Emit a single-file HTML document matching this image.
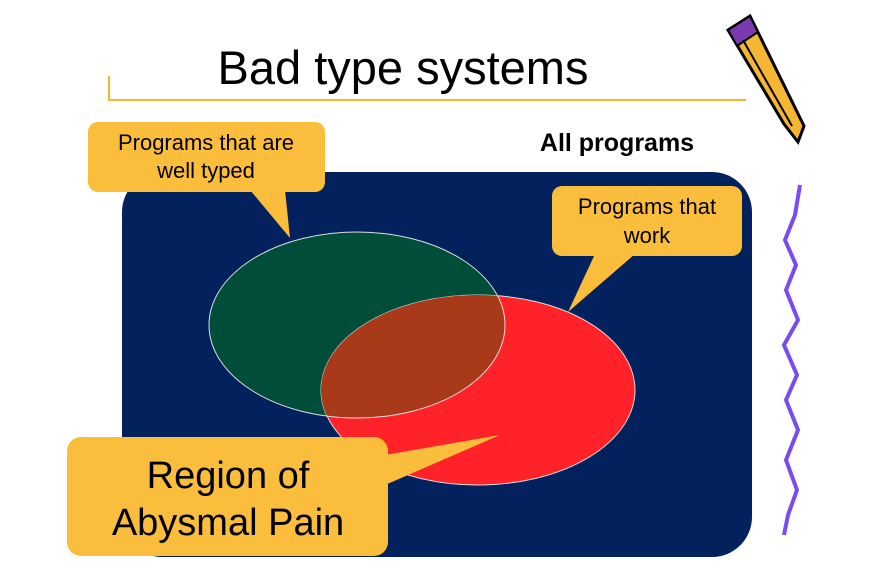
<!DOCTYPE html>
<html><head><meta charset="utf-8"><style>
html,body{margin:0;padding:0;background:#fff;}
svg{display:block;font-family:"Liberation Sans",sans-serif;}
</style></head><body>
<svg width="889" height="586" viewBox="0 0 889 586" xmlns="http://www.w3.org/2000/svg">
<defs>
<clipPath id="redclip"><ellipse cx="478" cy="390" rx="157" ry="95"/></clipPath>
</defs>
<text x="403" y="84" font-size="47" text-anchor="middle" fill="#000">Bad type systems</text>
<path d="M109 76 L109 100 L746 100" fill="none" stroke="#f5b731" stroke-width="2"/>
<rect x="122" y="172" width="630" height="385" rx="40" fill="#03215c"/>
<text x="617" y="151" font-size="25" font-weight="bold" text-anchor="middle" fill="#000">All programs</text>
<ellipse cx="357" cy="325" rx="148" ry="93" fill="#004d3a" stroke="#ddd" stroke-width="1"/>
<ellipse cx="478" cy="390" rx="157" ry="95" fill="#ff2229" stroke="#ddd" stroke-width="1"/>
<ellipse cx="357" cy="325" rx="148" ry="93" fill="#a83a1a" stroke="#ddd" stroke-width="1" clip-path="url(#redclip)"/>
<g>
<path d="M250 190 L290 238 L285 190 Z" fill="#fbbd3c"/>
<rect x="88" y="122" width="237" height="70" rx="10" fill="#fbbd3c"/>
<text x="206" y="150" font-size="22" text-anchor="middle">Programs that are</text>
<text x="206" y="178" font-size="22" text-anchor="middle">well typed</text>
</g>
<g>
<path d="M595 254 L568 312 L635 254 Z" fill="#fbbd3c"/>
<rect x="552" y="186" width="190" height="70" rx="10" fill="#fbbd3c"/>
<text x="647" y="214" font-size="22" text-anchor="middle">Programs that</text>
<text x="647" y="243" font-size="22" text-anchor="middle">work</text>
</g>
<g>
<path d="M385 455 L500 435 L385 485 Z" fill="#fbbd3c"/>
<rect x="67" y="437" width="321" height="119" rx="14" fill="#fbbd3c"/>
<text x="228" y="488" font-size="38" text-anchor="middle">Region of</text>
<text x="228" y="535" font-size="38" text-anchor="middle">Abysmal Pain</text>
</g>
<g>
<polygon points="728,30 750,16 804,126 798,142 784,124" fill="#f5b731" stroke="#000" stroke-width="3"/>
<polygon points="728,30 750,16 758,32 737,46" fill="#7a3ab0" stroke="#000" stroke-width="2"/>
<line x1="743" y1="40" x2="792" y2="126" stroke="#000" stroke-width="2"/>
</g>
<path d="M800 185 L795 215 L785 240 L796 265 L786 290 L798 320 L784 345 L797 375 L786 400 L798 430 L786 460 L797 490 L788 515 L784 535" fill="none" stroke="#7a4cf0" stroke-width="4"/>
</svg>
</body></html>
